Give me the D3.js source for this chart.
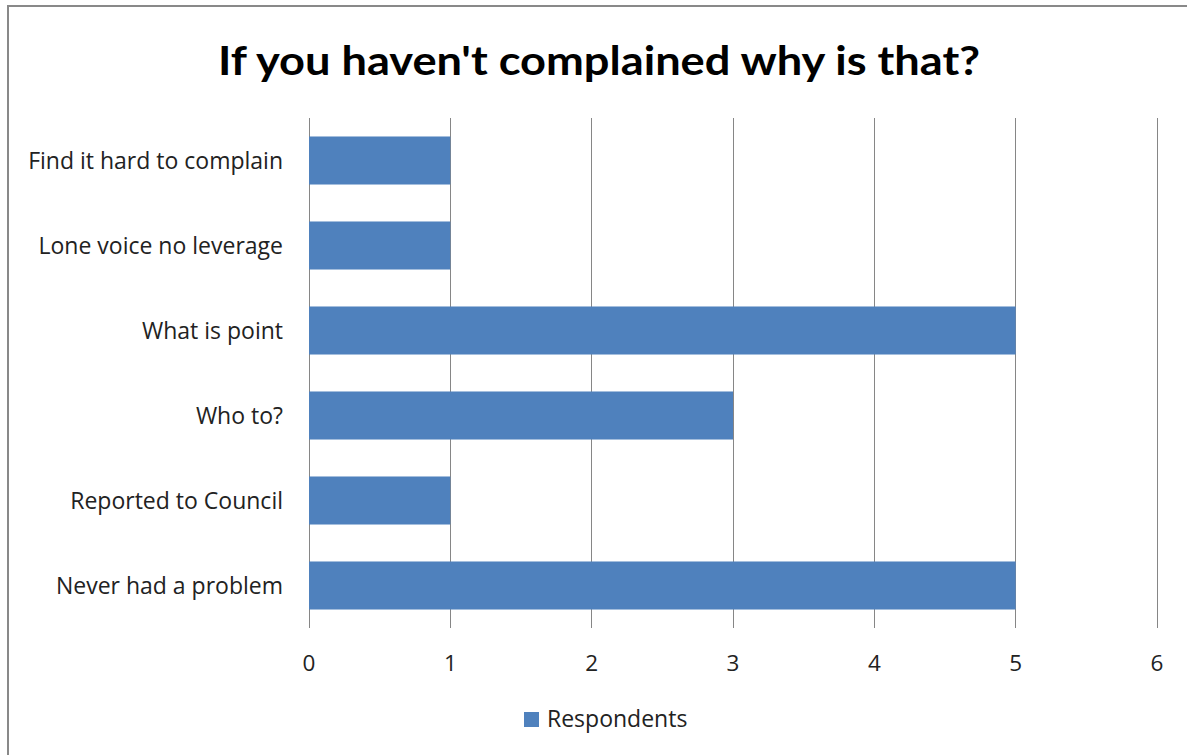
<!DOCTYPE html>
<html><head><meta charset="utf-8">
<script src="https://cdn.jsdelivr.net/npm/d3@7"></script>
<style>body{margin:0;background:#fff}svg{display:block}</style>
</head><body><svg id="c" width="1187" height="755"></svg>
<script>
const categories = ["Find it hard to complain","Lone voice no leverage","What is point","Who to?","Reported to Council","Never had a problem"];
const values = [1,1,5,3,1,5];
const xTicks = [0,1,2,3,4,5,6];
const title = "If you haven't complained why is that?";
const seriesName = "Respondents";

const svg = d3.select("#c");
const font = "'Open Sans', sans-serif";
const tfont = "Lato, 'Open Sans', sans-serif";
svg.append("rect").attr("x",8).attr("y",6).attr("width",1190).attr("height",760)
  .attr("fill","#fff").attr("stroke","#898989").attr("stroke-width",2);

const x = d3.scaleLinear().domain([0,6]).range([309,1157]);
const y = d3.scaleBand().domain(categories).range([118,628]).paddingInner(0.435).paddingOuter(0.2175);

svg.append("text").attr("x",599).attr("y",75).attr("text-anchor","middle")
  .attr("font-family",tfont).attr("font-weight","bold").attr("font-size",40)
  .attr("textLength",762).attr("lengthAdjust","spacingAndGlyphs").text(title);

svg.append("g").selectAll("line").data(xTicks).join("line")
  .attr("x1",d=>x(d)).attr("x2",d=>x(d)).attr("y1",118).attr("y2",628)
  .attr("stroke","#868686").attr("stroke-width",1).attr("shape-rendering","crispEdges");

svg.append("g").selectAll("rect").data(values).join("rect")
  .attr("x",x(0)).attr("y",(d,i)=>y(categories[i]))
  .attr("width",d=>x(d)-x(0)).attr("height",y.bandwidth()).attr("fill","#4F81BD");

svg.append("g").selectAll("text").data(xTicks).join("text")
  .attr("x",d=>x(d)).attr("y",671).attr("text-anchor","middle")
  .attr("font-family",font).attr("font-size",22.5).attr("fill","#222").text(d=>d);

svg.append("g").selectAll("text").data(categories).join("text")
  .attr("x",283).attr("y",d=>y(d)+y.bandwidth()/2+8).attr("text-anchor","end")
  .attr("font-family",font).attr("font-size",23).attr("fill","#222").text(d=>d);

svg.append("rect").attr("x",524).attr("y",712).attr("width",15).attr("height",15).attr("fill","#4F81BD");
svg.append("text").attr("x",547).attr("y",727).attr("font-family",font).attr("font-size",23).attr("fill","#222").text(seriesName);
</script></body></html>
